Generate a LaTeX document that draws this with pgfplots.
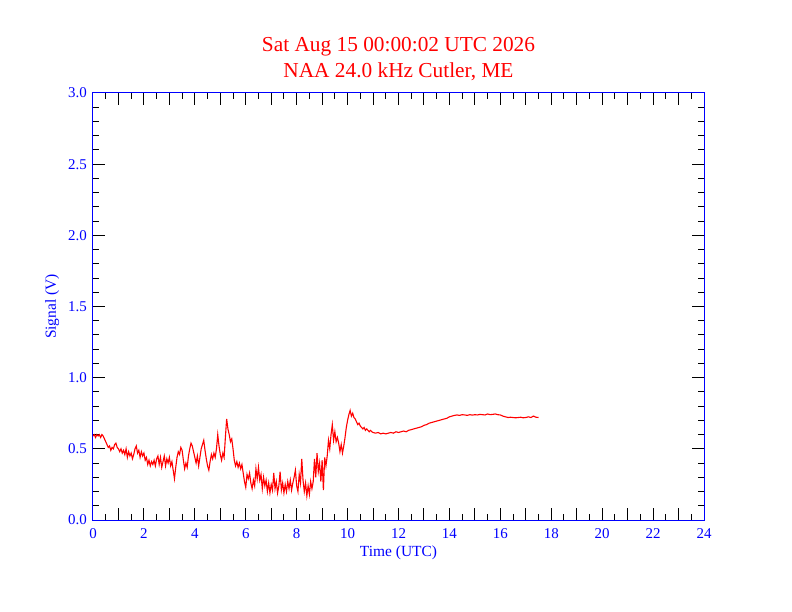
\documentclass[border=0pt]{standalone}
\usepackage{pgfplots}
\pgfplotsset{compat=1.18}
\usepackage{fontspec}
\setmainfont{Liberation Serif}
\begin{document}
\begin{tikzpicture}
\path[use as bounding box] (-93bp,-92bp) rectangle (699bp,520bp);
\begin{axis}[
  at={(0,0)}, anchor=south west,
  scale only axis, width=611bp, height=427bp,
  xmin=0, xmax=24, ymin=0, ymax=3,
  xtick={0,1,...,24},
  xticklabels={0,,2,,4,,6,,8,,10,,12,,14,,16,,18,,20,,22,,24},
  minor x tick num=1,
  ytick={0,0.5,...,3},
  minor y tick num=4,
  tick align=inside,
  major tick length=12bp, minor tick length=6bp,
  axis line style={blue, line width=1bp},
  tick style={black, line width=1bp},
  /pgf/number format/assume math mode=true,
  tick label style={font=\fontsize{15}{18}\selectfont, text=blue},
  y tick label style={/pgf/number format/.cd, fixed, fixed zerofill, precision=1, /tikz/.cd,
    anchor=east, inner sep=0pt, xshift=-6bp},
  x tick label style={anchor=base, inner sep=0pt, yshift=-18bp},
  xlabel={Time (UTC)},
  ylabel={Signal (V)},
  label style={font=\fontsize{15.5}{18}\selectfont, text=blue},
  xlabel style={at={(axis description cs:0.5,-0.085)}, anchor=base, inner sep=0pt},
  ylabel style={at={(axis description cs:-0.0606,0.5)}, anchor=base, inner sep=0pt, rotate=0},
  title={Sat Aug 15 00:00:02 UTC 2026\\NAA 24.0 kHz Cutler, ME},
  title style={font=\fontsize{21.4}{26}\selectfont, text=red, align=center,
    at={(0.5,1)}, anchor=south, inner sep=0pt, yshift=6bp},
]
\addplot[red, line width=1.1bp] table {
0.00 0.59
0.05 0.60
0.10 0.58
0.15 0.60
0.20 0.59
0.25 0.60
0.30 0.58
0.35 0.60
0.40 0.59
0.45 0.57
0.50 0.55
0.55 0.53
0.60 0.51
0.65 0.52
0.70 0.49
0.75 0.51
0.80 0.50
0.85 0.53
0.90 0.54
0.95 0.51
1.00 0.50
1.05 0.48
1.10 0.50
1.15 0.47
1.20 0.49
1.25 0.46
1.30 0.50
1.35 0.44
1.40 0.48
1.45 0.45
1.50 0.47
1.55 0.43
1.60 0.46
1.65 0.50
1.70 0.52
1.75 0.47
1.80 0.49
1.85 0.44
1.90 0.48
1.95 0.45
2.00 0.47
2.05 0.42
2.10 0.44
2.15 0.39
2.20 0.42
2.25 0.38
2.30 0.41
2.35 0.39
2.40 0.42
2.45 0.38
2.50 0.43
2.55 0.45
2.60 0.39
2.65 0.44
2.70 0.37
2.75 0.41
2.80 0.45
2.85 0.38
2.90 0.43
2.95 0.40
3.00 0.44
3.05 0.38
3.10 0.41
3.15 0.35
3.20 0.29
3.25 0.37
3.30 0.44
3.35 0.48
3.40 0.46
3.45 0.51
3.50 0.49
3.55 0.42
3.60 0.36
3.65 0.40
3.70 0.37
3.75 0.45
3.80 0.50
3.85 0.54
3.90 0.52
3.95 0.48
4.00 0.44
4.05 0.40
4.10 0.45
4.15 0.38
4.20 0.44
4.25 0.50
4.30 0.53
4.35 0.56
4.40 0.49
4.45 0.43
4.50 0.38
4.55 0.35
4.60 0.41
4.65 0.46
4.70 0.43
4.75 0.47
4.80 0.44
4.85 0.50
4.90 0.60
4.95 0.52
5.00 0.46
5.05 0.42
5.10 0.47
5.15 0.44
5.20 0.58
5.25 0.71
5.30 0.64
5.35 0.60
5.40 0.55
5.45 0.57
5.50 0.50
5.55 0.42
5.60 0.38
5.65 0.41
5.70 0.37
5.75 0.40
5.80 0.36
5.85 0.39
5.90 0.33
5.95 0.27
6.00 0.23
6.05 0.32
6.10 0.29
6.15 0.33
6.20 0.26
6.25 0.22
6.30 0.28
6.35 0.24
6.40 0.36
6.45 0.29
6.50 0.37
6.55 0.28
6.60 0.32
6.65 0.22
6.70 0.30
6.75 0.24
6.80 0.28
6.85 0.20
6.90 0.26
6.95 0.19
7.00 0.25
7.05 0.21
7.10 0.33
7.15 0.22
7.20 0.27
7.25 0.19
7.30 0.24
7.35 0.34
7.40 0.21
7.45 0.26
7.50 0.19
7.55 0.25
7.60 0.20
7.65 0.27
7.70 0.22
7.75 0.28
7.80 0.21
7.85 0.26
7.90 0.30
7.95 0.35
8.00 0.24
8.05 0.20
8.10 0.32
8.15 0.26
8.20 0.43
8.25 0.28
8.30 0.20
8.35 0.26
8.40 0.17
8.45 0.24
8.50 0.18
8.55 0.27
8.60 0.22
8.65 0.27
8.70 0.43
8.75 0.30
8.80 0.47
8.85 0.34
8.90 0.40
8.95 0.27
9.00 0.42
9.05 0.21
9.10 0.44
9.15 0.38
9.20 0.45
9.25 0.56
9.30 0.50
9.35 0.60
9.40 0.67
9.45 0.56
9.50 0.62
9.55 0.55
9.60 0.58
9.65 0.54
9.70 0.48
9.75 0.53
9.80 0.47
9.85 0.52
9.90 0.58
9.95 0.65
10.00 0.70
10.05 0.74
10.10 0.77
10.15 0.73
10.20 0.75
10.25 0.72
10.30 0.71
10.35 0.69
10.40 0.67
10.45 0.68
10.50 0.66
10.55 0.65
10.60 0.64
10.65 0.65
10.70 0.63
10.75 0.64
10.80 0.63
10.85 0.62
10.90 0.63
10.95 0.62
11.0 0.615
11.1 0.61
11.2 0.615
11.3 0.605
11.4 0.61
11.5 0.605
11.6 0.61
11.7 0.615
11.8 0.61
11.9 0.62
12.0 0.615
12.1 0.62
12.2 0.625
12.3 0.62
12.4 0.63
12.5 0.635
12.6 0.64
12.7 0.645
12.8 0.65
12.9 0.655
13.0 0.665
13.1 0.67
13.2 0.68
13.3 0.685
13.4 0.69
13.5 0.695
13.6 0.70
13.7 0.705
13.8 0.71
13.9 0.715
14.0 0.725
14.1 0.73
14.2 0.735
14.3 0.738
14.4 0.735
14.5 0.74
14.6 0.738
14.7 0.735
14.8 0.74
14.9 0.737
15.0 0.74
15.1 0.738
15.2 0.742
15.3 0.74
15.4 0.738
15.5 0.745
15.6 0.74
15.7 0.742
15.8 0.745
15.9 0.74
16.0 0.738
16.1 0.73
16.2 0.725
16.3 0.72
16.4 0.722
16.5 0.72
16.6 0.718
16.7 0.72
16.8 0.722
16.9 0.718
17.0 0.72
17.1 0.725
17.2 0.72
17.3 0.73
17.4 0.722
17.5 0.72
};
\end{axis}
\end{tikzpicture}
\end{document}
